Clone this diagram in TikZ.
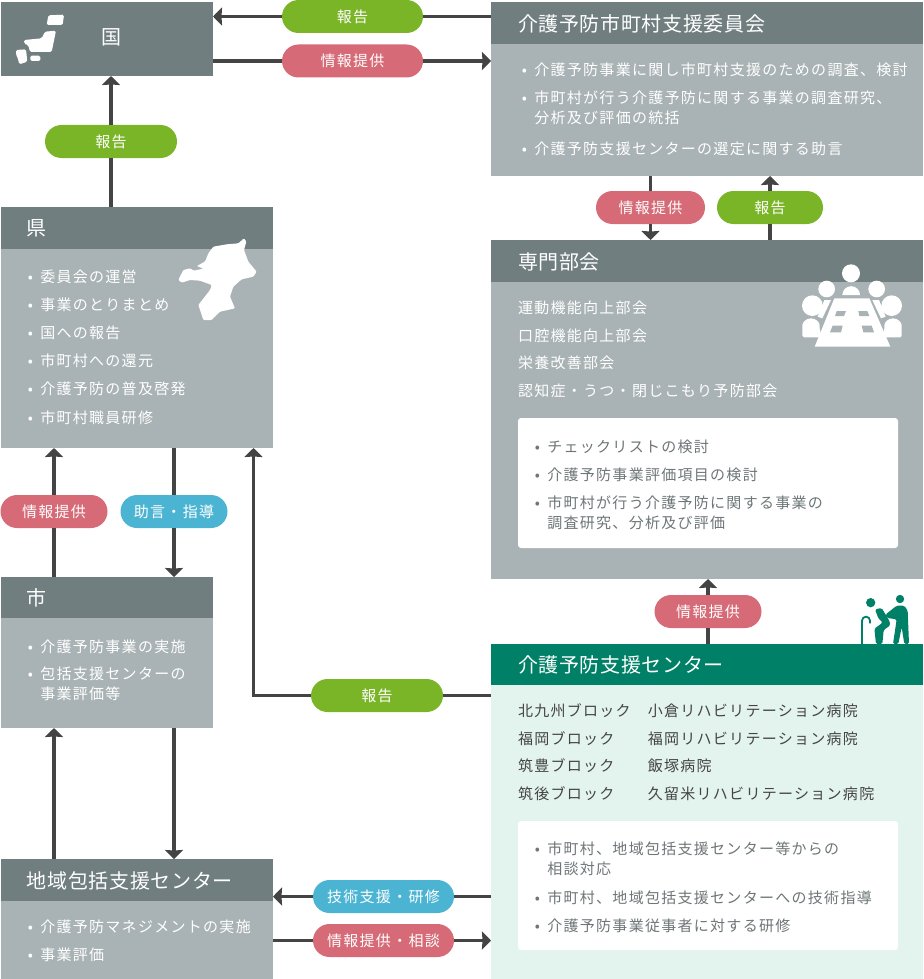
\documentclass[tikz,border=0pt]{standalone}
\usepackage{fontspec}
\setmainfont{Noto Sans CJK JP}[LetterSpace=8.6]
\newfontfamily\headfont{Noto Sans CJK JP}[LetterSpace=3.2]
\usetikzlibrary{arrows.meta,shapes.misc}
\definecolor{hdr}{HTML}{717E80}
\definecolor{bod}{HTML}{A9B2B4}
\definecolor{pgreen}{HTML}{7AB527}
\definecolor{ppink}{HTML}{D66A77}
\definecolor{pblue}{HTML}{4CB4D3}
\definecolor{teal1}{HTML}{008066}
\definecolor{teal2}{HTML}{E3F3EE}
\definecolor{ink}{HTML}{444444}
\definecolor{ink2}{HTML}{6E7678}
\newcommand\bu{\makebox[12.5pt][l]{•}}
\newcommand\nb{\hspace*{12.5pt}}
\tikzset{
  x=1pt,y=-1pt,
  box/.style={draw=none,inner sep=0,outer sep=0,anchor=north west},
  hd/.style={anchor=west,inner sep=0,outer sep=0,text=white,yshift=-0.6pt,font=\headfont\fontsize{20}{24}\selectfont},
  item/.style={anchor=west,inner sep=0,outer sep=0,text=white,align=left,xshift=0.8pt,yshift=-0.8pt,font=\fontsize{15}{20}\selectfont},
  ditem/.style={item,text=ink2},
  bitem/.style={item,text=ink},
  pill/.style={rounded rectangle,inner sep=0,outer sep=0,minimum height=33pt,text=white,font=\fontsize{15}{18}\selectfont},
  line/.style={draw=ink,line width=3.5pt},
  arr/.style={line,-{Stealth[length=9pt,width=18pt,inset=0.5pt]}},
  icon/.style={fill=white,draw=none},
}
\begin{document}
\begin{tikzpicture}
\useasboundingbox (0,0) rectangle (923,979);
% boxes
\node[box,fill=hdr,minimum width=212pt,minimum height=74pt] (kuni) at (1,2) {};
\node[text=white,inner sep=0,font=\headfont\fontsize{20}{24}\selectfont] (kuniT) at (111,37) {国};

\node[box,fill=bod,minimum width=432pt,minimum height=174pt] (iinkai) at (491,2) {};
\node[box,fill=hdr,minimum width=432pt,minimum height=42pt] (iinkaiH) at (491,2) {};
\node[hd] (iinkaiT) at (518,23) {介護予防市町村支援委員会};
\node[item] (i1) at (521,69) {\bu 介護予防事業に関し市町村支援のための調査、検討};
\node[item] (i2) at (521,107) {\bu 市町村が行う介護予防に関する事業の調査研究、\\\nb 分析及び評価の統括};
\node[item] (i3) at (521,148) {\bu 介護予防支援センターの選定に関する助言};

\node[box,fill=bod,minimum width=272pt,minimum height=241pt] (ken) at (1,207) {};
\node[box,fill=hdr,minimum width=272pt,minimum height=42pt] (kenH) at (1,207) {};
\node[hd] (kenT) at (27,228) {県};
\node[item] (k1) at (27,276) {\bu 委員会の運営};
\node[item] (k2) at (27,304) {\bu 事業のとりまとめ};
\node[item] (k3) at (27,332) {\bu 国への報告};
\node[item] (k4) at (27,360) {\bu 市町村への還元};
\node[item] (k5) at (27,388) {\bu 介護予防の普及啓発};
\node[item] (k6) at (27,417) {\bu 市町村職員研修};

\node[box,fill=bod,minimum width=432pt,minimum height=339pt] (bukai) at (491,240) {};
\node[box,fill=hdr,minimum width=432pt,minimum height=42pt] (bukaiH) at (491,240) {};
\node[hd] (bukaiT) at (518,261) {専門部会};
\node[item,xshift=-0.8pt] (b1) at (518,307) {運動機能向上部会};
\node[item,xshift=-0.8pt] (b2) at (518,335) {口腔機能向上部会};
\node[item,xshift=-0.8pt] (b3) at (518,362) {栄養改善部会};
\node[item,xshift=-0.8pt] (b4) at (518,390) {認知症・うつ・閉じこもり予防部会};
\node[box,fill=white,rounded corners=3pt,minimum width=380pt,minimum height=130pt] (bukaiW) at (518,418) {};
\node[ditem] (w1) at (534,446) {\bu チェックリストの検討};
\node[ditem] (w2) at (534,474) {\bu 介護予防事業評価項目の検討};
\node[ditem] (w3) at (534,512) {\bu 市町村が行う介護予防に関する事業の\\\nb 調査研究、分析及び評価};

\node[box,fill=bod,minimum width=212pt,minimum height=151pt] (shi) at (1,577) {};
\node[box,fill=hdr,minimum width=212pt,minimum height=41pt] (shiH) at (1,577) {};
\node[hd] (shiT) at (27,597) {市};
\node[item] (s1) at (27,646) {\bu 介護予防事業の実施};
\node[item] (s2) at (27,683) {\bu 包括支援センターの\\\nb 事業評価等};

\node[box,fill=teal2,minimum width=432pt,minimum height=335pt] (center) at (491,644) {};
\node[box,fill=teal1,minimum width=432pt,minimum height=41pt] (centerH) at (491,644) {};
\node[hd] (centerT) at (518,664) {介護予防支援センター};
\node[bitem,xshift=-0.8pt] (c1) at (518,710) {北九州ブロック};
\node[bitem,xshift=-0.8pt] (c2) at (518,738) {福岡ブロック};
\node[bitem,xshift=-0.8pt] (c3) at (518,765) {筑豊ブロック};
\node[bitem,xshift=-0.8pt] (c4) at (518,793) {筑後ブロック};
\node[bitem] (d1) at (647,710) {小倉リハビリテーション病院};
\node[bitem] (d2) at (647,738) {福岡リハビリテーション病院};
\node[bitem] (d3) at (647,765) {飯塚病院};
\node[bitem] (d4) at (647,793) {久留米リハビリテーション病院};
\node[box,fill=white,rounded corners=3pt,minimum width=380pt,minimum height=129pt] (centerW) at (518,821) {};
\node[ditem] (e1) at (534,858) {\bu 市町村、地域包括支援センター等からの\\\nb 相談対応};
\node[ditem] (e2) at (534,897) {\bu 市町村、地域包括支援センターへの技術指導};
\node[ditem] (e3) at (534,925) {\bu 介護予防事業従事者に対する研修};

\node[box,fill=bod,minimum width=272pt,minimum height=120pt] (hokatsu) at (1,859) {};
\node[box,fill=hdr,minimum width=272pt,minimum height=42pt] (hokatsuH) at (1,859) {};
\node[hd] (hokatsuT) at (27,880) {地域包括支援センター};
\node[item] (h1) at (27,926) {\bu 介護予防マネジメントの実施};
\node[item] (h2) at (27,954) {\bu 事業評価};

% label pills
\node[pill,fill=pgreen,minimum width=141pt] (p1) at (352.5,16.5) {報告};
\node[pill,fill=ppink,minimum width=141pt] (p2) at (352.5,61) {情報提供};
\node[pill,fill=pgreen,minimum width=132pt] (p3) at (111,141.5) {報告};
\node[pill,fill=ppink,minimum width=109pt] (p4) at (650.5,207.5) {情報提供};
\node[pill,fill=pgreen,minimum width=106pt] (p5) at (770,207.5) {報告};
\node[pill,fill=ppink,minimum width=107pt] (p6) at (54,511.5) {情報提供};
\node[pill,fill=pblue,minimum width=107pt] (p7) at (174,511.5) {助言・指導};
\node[pill,fill=ppink,minimum width=107pt] (p8) at (708,611.5) {情報提供};
\node[pill,fill=pgreen,minimum width=132pt] (p9) at (377,695.5) {報告};
\node[pill,fill=pblue,minimum width=141pt] (p10) at (383.5,896.5) {技術支援・研修};
\node[pill,fill=ppink,minimum width=141pt] (p11) at (383.5,940.5) {情報提供・相談};
\coordinate (bend) at (253.5,695.5);
\coordinate (hs1) at (54,790);
\coordinate (hs2) at (174,790);

% connectors
\draw[line] (iinkai.west |- p1) -- (p1.east);
\draw[arr] (p1.west) -- (kuni.east |- p1);
\draw[line] (kuni.east |- p2) -- (p2.west);
\draw[arr] (p2.east) -- (iinkai.west |- p2);
\draw[line] (ken.north -| p3) -- (p3.south);
\draw[arr] (p3.north) -- (kuni.south -| p3);
\draw[line] (iinkai.south -| p4) -- (p4.north);
\draw[arr] (p4.south) -- (bukai.north -| p4);
\draw[line] (bukai.north -| p5) -- (p5.south);
\draw[arr] (p5.north) -- (iinkai.south -| p5);
\draw[line] (shi.north -| p6) -- (p6.south);
\draw[arr] (p6.north) -- (ken.south -| p6);
\draw[line] (ken.south -| p7) -- (p7.north);
\draw[arr] (p7.south) -- (shi.north -| p7);
\draw[line] (center.north -| p8) -- (p8.south);
\draw[arr] (p8.north) -- (bukai.south -| p8);
\draw[line] (center.west |- p9) -- (p9.east);
\draw[arr] (p9.west) -- (bend) -- (ken.south -| bend);
\draw[arr] (hokatsu.north -| hs1) -- (shi.south -| hs1);
\draw[arr] (shi.south -| hs2) -- (hokatsu.north -| hs2);
\draw[line] (center.west |- p10) -- (p10.east);
\draw[arr] (p10.west) -- (hokatsu.east |- p10);
\draw[line] (hokatsu.east |- p11) -- (p11.west);
\draw[arr] (p11.east) -- (center.west |- p11);

% Japan icon
\begin{scope}[shift={(10,10)},scale=1/3]
\fill[icon,rounded corners=1.5pt] (115,16) -- (162,14) -- (158,45) -- (110,45) -- cycle;
\fill[icon,rounded corners=1.5pt] (105,65) -- (138,62) -- (125,126) -- (60,126) -- (55,106) -- (42,100) -- (42,90) -- (95,85) -- cycle;
\fill[icon,rounded corners=1.5pt] (61,137) -- (91,137) -- (91,153) -- (61,153) -- cycle;
\fill[icon,rounded corners=1.5pt] (18,120) -- (48,118) -- (52,155) -- (28,163) -- (22,140) -- (18,135) -- cycle;
\end{scope}
% Fukuoka icon
\begin{scope}[shift={(170,230)},scale=1/3]
\fill[icon,rounded corners=1pt] (25,150) -- (40,120) -- (60,115) -- (72,122) -- (100,116) -- (80,108) -- (105,95) -- (115,70) -- (130,50) -- (170,43) -- (205,40) -- (222,25) -- (229,35) -- (222,60) -- (235,95) -- (260,125) -- (250,140) -- (215,148) -- (190,170) -- (180,200) -- (195,235) -- (150,245) -- (125,270) -- (100,270) -- (85,225) -- (120,180) -- (125,165) -- (90,152) -- (60,150) -- (35,158) -- cycle;
\end{scope}

% meeting icon
\begin{scope}[shift={(780,250)},scale=1/3]
\fill[icon] (213,70) circle (27);
\fill[icon] (140,117) circle (25);
\fill[icon] (290,117) circle (25);
\fill[icon] (97,167) circle (31);
\fill[icon] (335,167) circle (31);
\fill[icon] (187,135) arc[start angle=180,end angle=360,radius=26.5] -- cycle;
\fill[icon,rounded corners=1.5pt] (67,262) -- (67,231) arc[start angle=180,end angle=360,radius=26] -- (119,240) -- (128,262) -- cycle;
\fill[icon,rounded corners=1.5pt] (365,262) -- (365,231) arc[start angle=0,end angle=-180,radius=26] -- (313,240) -- (304,262) -- cycle;
\fill[icon] (133,150) -- (153,150) -- (127,205) -- (113,200) -- cycle;
\fill[icon] (297,150) -- (277,150) -- (303,205) -- (317,200) -- cycle;
\fill[icon] (163,145) -- (268,145) -- (331,290) -- (104,290) -- cycle;
\fill[bod] (170,183) -- (198,183) -- (192,198) -- (165,198) -- cycle;
\fill[bod] (235,183) -- (262,183) -- (268,198) -- (238,198) -- cycle;
\fill[bod] (158,227) -- (188,227) -- (183,247) -- (150,247) -- cycle;
\fill[bod] (245,227) -- (275,227) -- (282,247) -- (250,247) -- cycle;
\end{scope}

% care icon
\begin{scope}[shift={(855,590)},scale=1/3]
\fill[teal1] (47,38) circle (14);
\fill[teal1] (135,27) circle (12.5);
\fill[teal1,rounded corners=1.5pt] (60,58) -- (80,54) -- (103,92) -- (106,106) -- (86,120) -- (82,162) -- (63,162) -- (58,116) -- (83,98) -- (70,85) -- cycle;
\fill[teal1,rounded corners=1.5pt] (125,47) -- (148,47) -- (158,62) -- (162,162) -- (148,162) -- (140,112) -- (130,162) -- (114,162) -- (125,88) -- (97,84) -- (91,74) -- cycle;
\draw[teal1,line width=1.8pt] (21,162) -- (21,92) arc[start angle=180,end angle=360,radius=12] -- (45,100);
\end{scope}
\end{tikzpicture}
\end{document}
